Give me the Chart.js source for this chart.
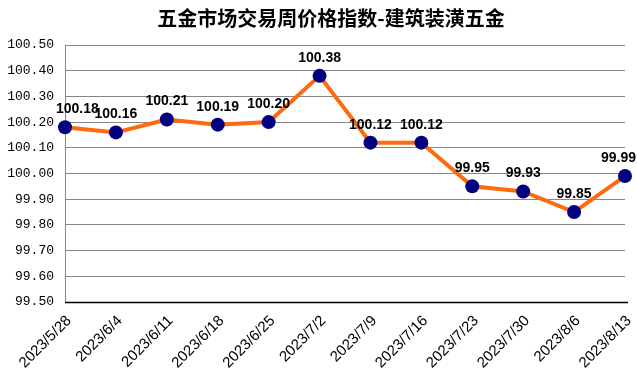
<!DOCTYPE html>
<html><head><meta charset="utf-8">
<script src="https://cdn.jsdelivr.net/npm/chart.js@4"></script>
<style>html,body{margin:0;padding:0;background:#fff;}#wrap{width:637px;height:384px;position:relative;}</style>
</head><body><div id="wrap"><canvas id="c" width="637" height="384"></canvas></div>
<script>
const title = '五金市场交易周价格指数-建筑装潢五金';
const categories = ['2023/5/28','2023/6/4','2023/6/11','2023/6/18','2023/6/25','2023/7/2','2023/7/9','2023/7/16','2023/7/23','2023/7/30','2023/8/6','2023/8/13'];
const values = [100.18,100.16,100.21,100.19,100.20,100.38,100.12,100.12,99.95,99.93,99.85,99.99];
const yMin = 99.5, yMax = 100.5, yStep = 0.1;

const labelPlugin = {
  id: 'labels',
  afterDatasetsDraw(chart) {
    const ctx = chart.ctx;
    const meta = chart.getDatasetMeta(0);
    ctx.save();
    ctx.font = 'bold 14px "Liberation Sans", Arial, sans-serif';
    ctx.fillStyle = '#000';
    ctx.textAlign = 'center';
    ctx.textBaseline = 'middle';
    meta.data.forEach((pt, i) => {
      const txt = values[i].toFixed(2);
      const w = ctx.measureText(txt).width;
      let x = pt.x;
      if (x - w / 2 < 56) x = 56 + w / 2;
      if (x + w / 2 > 636) x = 636 - w / 2;
      ctx.fillText(txt, x, pt.y - 18);
    });
    ctx.restore();
  }
};
const titlePlugin = {
  id: 'ttl',
  afterDraw(chart) {
    const ctx = chart.ctx;
    ctx.save();
    ctx.font = 'bold 20px "Noto Sans CJK SC", sans-serif';
    ctx.fillStyle = '#000';
    ctx.textAlign = 'center';
    ctx.textBaseline = 'middle';
    ctx.fillText(title, 331, 18);
    ctx.restore();
  }
};
const axisPlugin = {
  id: 'axisLines',
  beforeDatasetsDraw(chart) {
    const {ctx, chartArea: a} = chart;
    ctx.save();
    ctx.strokeStyle = '#000';
    ctx.lineWidth = 1.5;
    ctx.beginPath();
    ctx.moveTo(a.left, a.bottom + 0.5);
    ctx.lineTo(a.right + 3, a.bottom + 0.5);
    ctx.stroke();
    ctx.restore();
  }
};

new Chart(document.getElementById('c'), {
  type: 'line',
  data: {
    labels: categories,
    datasets: [{
      data: values,
      borderColor: '#FF6A0E',
      borderWidth: 4,
      pointBackgroundColor: '#000080',
      pointBorderColor: '#000080',
      pointRadius: 7,
      pointBorderWidth: 0,
      tension: 0,
      clip: false
    }]
  },
  options: {
    responsive: false,
    animation: false,
    events: [],
    layout: { padding: { top: 45, right: 12, left: 0, bottom: 0 } },
    plugins: { legend: { display: false }, title: { display: false }, tooltip: { enabled: false } },
    scales: {
      x: {
        offset: false,
        grid: { display: false, drawTicks: false },
        border: { display: false },
        ticks: {
          minRotation: 45, maxRotation: 45, autoSkip: false, padding: 10, labelOffset: 4,
          color: '#000',
          font: { family: '"Liberation Sans", Arial, sans-serif', size: 15 }
        },
        afterFit(s) { s.height = 82; s.paddingRight = 0; s.paddingLeft = 0; }
      },
      y: {
        min: yMin, max: yMax,
        grid: { color: '#868686', lineWidth: 1, drawTicks: false },
        border: { display: true, color: '#868686' },
        ticks: {
          stepSize: yStep, padding: 11, color: '#000',
          font: { family: '"Liberation Mono", monospace', size: 13 },
          callback: v => Number(v).toFixed(2)
        },
        afterFit(s) { s.width = 65; }
      }
    }
  },
  plugins: [labelPlugin, titlePlugin, axisPlugin]
});
</script></body></html>
